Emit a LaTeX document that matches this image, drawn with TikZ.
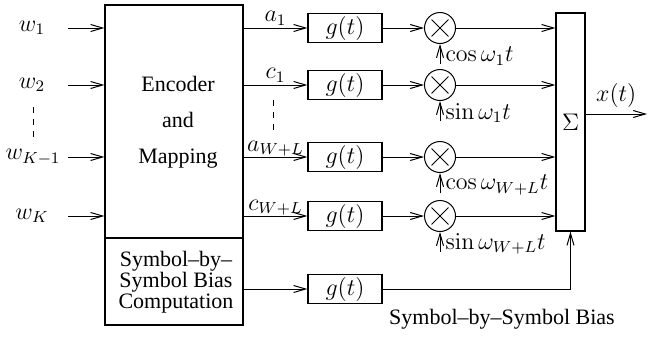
\documentclass[tikz,border=0pt]{standalone}
\usepackage[no-math]{fontspec}
\setmainfont{Liberation Serif}
\usetikzlibrary{arrows.meta,positioning}

\tikzset{
  arr/.style={-{Straight Barb[length=6pt,width=3.5pt]}, line width=0.5pt},
  blk/.style={draw, line width=0.6pt, inner sep=0pt},
  filt/.style={blk, minimum width=37pt, minimum height=14.5pt, font=\fontsize{12}{14}\selectfont},
  mixer/.style={draw, circle, line width=0.5pt, minimum size=15.5pt, inner sep=0pt,
    path picture={
      \draw[line width=0.5pt] ([shift={(-4.2pt,-4.2pt)}]path picture bounding box.center) -- ([shift={(4.2pt,4.2pt)}]path picture bounding box.center);
      \draw[line width=0.5pt] ([shift={(-4.2pt,4.2pt)}]path picture bounding box.center) -- ([shift={(4.2pt,-4.2pt)}]path picture bounding box.center);
    }},
  lbl/.style={font=\fontsize{12}{14}\selectfont, inner sep=1pt},
  carr/.style={lbl, right=1.5pt, yshift=-1pt},
  txt/.style={font=\fontsize{11}{10.5}\selectfont, align=center},
}

\begin{document}
\begin{tikzpicture}[x=0.5pt, y=-0.5pt]
  \useasboundingbox (0,0) rectangle (648,337);

  % encoder block and bias block below it
  \node[blk, minimum width=69pt, minimum height=116.5pt] (enc) at (174,121.5) {};
  \node[blk, minimum width=69pt, minimum height=43.5pt] (bias) at (174,281.5) {};
  \node[txt, font=\fontsize{11}{18}\selectfont] (enctxt) at (178,122) {Encoder\\and\\Mapping};
  \node[txt] (biastxt) at (176,282) {Symbol--by--\\Symbol Bias\\Computation};

  % inputs
  \coordinate (inx) at (68,0);
  \node[lbl] (w1) at (32,28) {$w_1$};
  \node[lbl] (w2) at (32,85) {$w_2$};
  \node[lbl] (wK1) at (33,157) {$w_{K-1}$};
  \node[lbl] (wK) at (32,216) {$w_K$};
  \foreach \w in {w1,w2,wK1,wK}
    \draw[arr] (\w -| inx) -- (\w -| enc.west);
  \draw[dashed, line width=0.5pt] (33,107) -- (33,143);

  % pulse shaping filters
  \node[filt] (g1) at (345,28) {$g(t)$};
  \node[filt] (g2) at (345,85) {$g(t)$};
  \node[filt] (g3) at (345,157) {$g(t)$};
  \node[filt] (g4) at (345,216) {$g(t)$};
  \node[filt] (g5) at (345,289) {$g(t)$};

  \draw[arr] (enc.east |- g1) -- node[lbl, above] {$a_1$} (g1.west);
  \draw[arr] (enc.east |- g2) -- node[lbl, above] {$c_1$} (g2.west);
  \draw[arr] (enc.east |- g3) -- node[lbl, above=-1pt] {$a_{W+L}$} (g3.west);
  \draw[arr] (enc.east |- g4) -- node[lbl, above=-1pt] {$c_{W+L}$} (g4.west);
  \draw[arr] (bias.east |- g5) -- (g5.west);
  \draw[dashed, line width=0.5pt] (273,100) -- (273,133);

  % mixers
  \node[mixer] (m1) at (440,28) {};
  \node[mixer] (m2) at (440,85) {};
  \node[mixer] (m3) at (440,157) {};
  \node[mixer] (m4) at (440,216) {};
  \foreach \i in {1,...,4}
    \draw[arr] (g\i.east) -- (m\i.west);

  \draw[arr] ([yshift=-10pt]m1.south) -- node[carr] {$\cos\omega_1 t$} (m1.south);
  \draw[arr] ([yshift=-10pt]m2.south) -- node[carr] {$\sin\omega_1 t$} (m2.south);
  \draw[arr] ([yshift=-10pt]m3.south) -- node[carr] {$\cos\omega_{W+L} t$} (m3.south);
  \draw[arr] ([yshift=-10pt]m4.south) -- node[carr] {$\sin\omega_{W+L} t$} (m4.south);

  % summer
  \node[blk, minimum width=14.5pt, minimum height=109pt, font=\fontsize{12}{14}\selectfont] (sum) at (570.5,122) {\raisebox{-3pt}{$\Sigma$}};
  \foreach \i in {1,...,4}
    \draw[arr] (m\i.east) -- (m\i -| sum.west);
  \draw[arr] (g5.east) -| (sum.south);
  \node[txt] (biaslbl) at (502,319) {Symbol--by--Symbol Bias};

  \coordinate (xout) at (647,114);
  \draw[arr] (sum.east |- xout) -- node[lbl, above=2pt] {$x(t)$} (xout);
\end{tikzpicture}
\end{document}
